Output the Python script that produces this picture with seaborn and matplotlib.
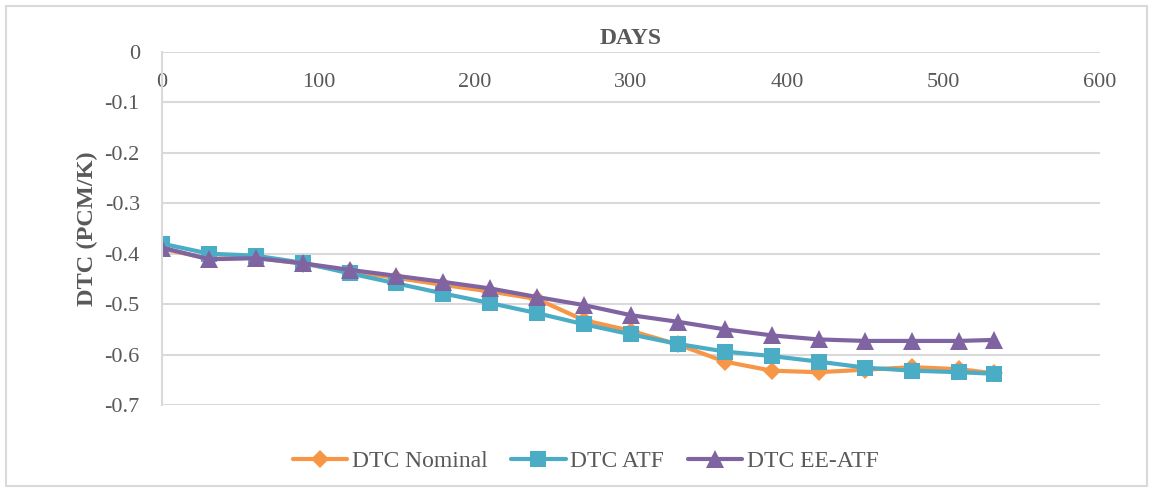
import matplotlib
matplotlib.use("Agg")
import matplotlib.pyplot as plt
import seaborn as sns
import pandas as pd
from matplotlib.patches import Rectangle

# Burnup days
days = [0, 30, 60, 90, 120, 150, 180, 210, 240, 270, 300, 330, 360, 390, 420, 450, 480, 510, 532]

# Doppler temperature coefficient (pcm/K)
dtc_nominal = [-0.390, -0.410, -0.408, -0.420, -0.435, -0.448, -0.462, -0.475, -0.490,
               -0.532, -0.553, -0.580, -0.614, -0.632, -0.635, -0.630, -0.625, -0.629, -0.637]
dtc_atf = [-0.380, -0.400, -0.404, -0.418, -0.439, -0.459, -0.479, -0.498, -0.518,
           -0.540, -0.560, -0.579, -0.594, -0.603, -0.614, -0.626, -0.632, -0.635, -0.638]
dtc_ee_atf = [-0.388, -0.411, -0.409, -0.419, -0.432, -0.444, -0.456, -0.469, -0.486,
              -0.502, -0.522, -0.535, -0.550, -0.562, -0.570, -0.573, -0.573, -0.573, -0.571]

series_names = ["DTC Nominal", "DTC ATF", "DTC EE-ATF"]
y_ticks = [0, -0.1, -0.2, -0.3, -0.4, -0.5, -0.6, -0.7]
x_ticks = [0, 100, 200, 300, 400, 500, 600]

colors = ["#F79646", "#4BACC6", "#8064A2"]
markers = ["D", "s", "^"]
msizes = [9, 12, 13]

df = pd.concat([
    pd.DataFrame({"Days": days, "DTC": vals, "Series": name})
    for name, vals in zip(series_names, [dtc_nominal, dtc_atf, dtc_ee_atf])
])

sns.set_theme(style="white")
plt.rcParams["font.family"] = ["Liberation Serif", "DejaVu Serif"]
plt.rcParams["axes.unicode_minus"] = False
text_color = "#595959"
grid_color = "#D9D9D9"

fig = plt.figure(figsize=(11.53, 4.9), dpi=100)
ax = fig.add_axes([0.1405, 0.1735, 0.8135, 0.7205])

for name, c, m, ms in zip(series_names, colors, markers, msizes):
    sns.lineplot(data=df[df["Series"] == name], x="Days", y="DTC", ax=ax,
                 color=c, marker=m, markersize=ms, markeredgewidth=0,
                 linewidth=3, label=name, legend=False)

ax.set_xlim(0, 600)
ax.set_ylim(-0.7, 0)
ax.set_yticks(y_ticks)
ax.set_yticklabels([f"{v:g}" for v in y_ticks])
ax.set_xticks(x_ticks)

# category axis crosses at y = 0, so its labels sit just below the top edge
ax.xaxis.set_ticks_position("top")
ax.tick_params(axis="x", top=False, bottom=False, labeltop=True, labelbottom=False,
               length=0, pad=-29, labelsize=16, labelcolor=text_color)
ax.tick_params(axis="y", left=False, length=0, pad=16, labelsize=16, labelcolor=text_color)

ax.yaxis.grid(True, color=grid_color, linewidth=1.5)
ax.xaxis.grid(False)
for side in ["top", "right", "bottom"]:
    ax.spines[side].set_visible(False)
ax.spines["left"].set_color(grid_color)
ax.spines["left"].set_linewidth(1.5)

ax.set_xlabel("")
ax.set_ylabel("DTC (PCM/K)", fontsize=17.5, fontweight="bold", color=text_color, labelpad=5)
ax.set_title("DAYS", fontsize=17, fontweight="bold", color=text_color, pad=6)

handles, labels = ax.get_legend_handles_labels()
fig.legend(handles, labels, loc="center", bbox_to_anchor=(0.508, 0.058), ncol=3,
           frameon=False, fontsize=17, labelcolor=text_color, handlelength=2.3,
           handletextpad=0.2, columnspacing=1.0)

# outer chart border
fig.patches.append(Rectangle((0.005, 0.008), 0.99, 0.98, transform=fig.transFigure,
                             fill=False, edgecolor=grid_color, linewidth=1.5))

fig.savefig("out.png", dpi=100)
